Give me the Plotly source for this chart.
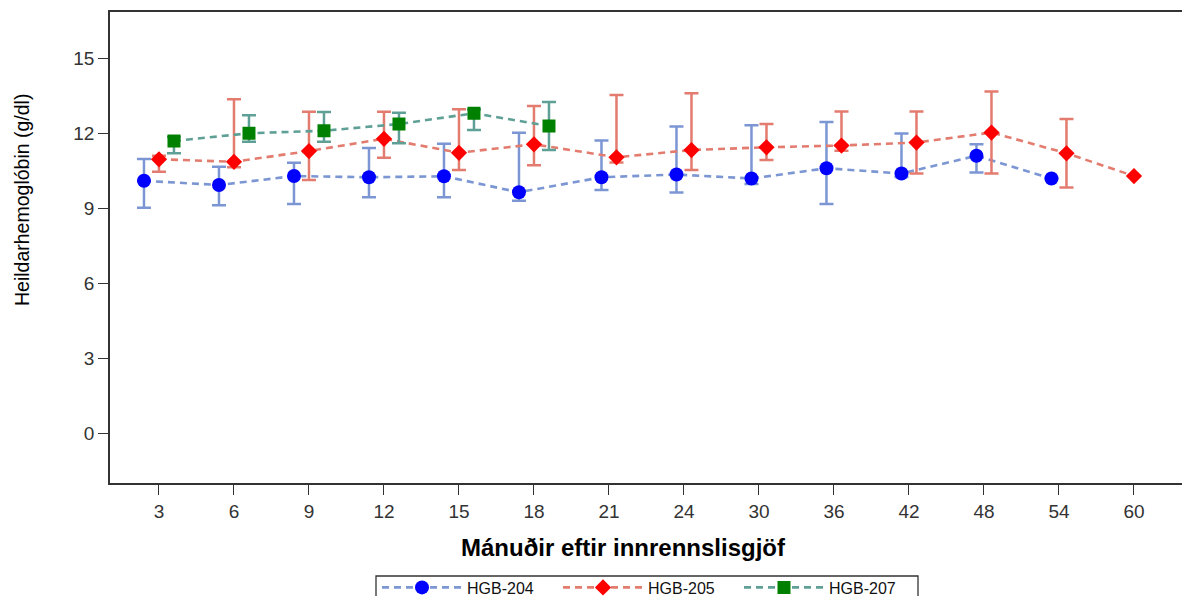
import plotly.graph_objects as go

categories = ["3", "6", "9", "12", "15", "18", "21", "24", "30", "36", "42", "48", "54", "60"]

series_names = ["HGB-204", "HGB-205", "HGB-207"]

hgb204_mean = [10.10, 9.93, 10.29, 10.24, 10.28, 9.64, 10.24, 10.35, 10.19, 10.60, 10.39, 11.10, 10.19, None]
hgb204_upper = [10.97, 10.66, 10.82, 11.41, 11.58, 12.02, 11.71, 12.27, 12.32, 12.45, 11.99, 11.56, None, None]
hgb204_lower = [9.02, 9.12, 9.17, 9.44, 9.44, 9.30, 9.73, 9.63, 9.97, 9.17, 10.25, 10.43, None, None]

hgb205_mean = [10.96, 10.86, 11.29, 11.78, 11.22, 11.56, 11.04, 11.33, 11.44, 11.51, 11.63, 12.03, 11.20, 10.29]
hgb205_upper = [11.10, 13.36, 12.86, 12.86, 12.96, 13.09, 13.53, 13.60, 12.37, 12.87, 12.87, 13.67, 12.57, None]
hgb205_lower = [10.46, 10.64, 10.13, 11.02, 10.53, 10.72, 10.83, 10.53, 10.93, 11.30, 10.39, 10.39, 9.83, None]

hgb207_mean = [11.69, 12.00, 12.10, 12.37, 12.80, 12.29, None, None, None, None, None, None, None, None]
hgb207_upper = [11.85, 12.72, 12.85, 12.82, 12.95, 13.25, None, None, None, None, None, None, None, None]
hgb207_lower = [11.20, 11.66, 11.66, 11.60, 12.13, 11.33, None, None, None, None, None, None, None, None]

y_ticks = [0, 3, 6, 9, 12, 15]

means = [hgb204_mean, hgb205_mean, hgb207_mean]
uppers = [hgb204_upper, hgb205_upper, hgb207_upper]
lowers = [hgb204_lower, hgb205_lower, hgb207_lower]

line_colors = ["#7B96D3", "#E37B6F", "#5FA096"]
marker_colors = ["#0000FF", "#FF0000", "#008000"]
symbols = ["circle", "diamond", "square"]
marker_sizes = [14, 12.5, 13]

# cluster offsets per category (depends on how many groups are present)
step = 0.2
positions = [[None] * len(categories) for _ in means]
for i in range(len(categories)):
    present = [k for k in range(len(means)) if means[k][i] is not None]
    n = len(present)
    for rank, k in enumerate(present):
        positions[k][i] = i + (rank - (n - 1) / 2) * step

fig = go.Figure()
for k, name in enumerate(series_names):
    xs, ys, ep, em = [], [], [], []
    for i in range(len(categories)):
        m = means[k][i]
        if m is None:
            continue
        xs.append(positions[k][i])
        ys.append(m)
        u = uppers[k][i]
        l = lowers[k][i]
        ep.append(0 if u is None else u - m)
        em.append(0 if l is None else m - l)
    fig.add_trace(go.Scatter(
        x=xs, y=ys, name=name, mode="lines+markers",
        line=dict(color=line_colors[k], width=2.6, dash="7px,5px"),
        marker=dict(color=marker_colors[k], symbol=symbols[k], size=marker_sizes[k],
                    line=dict(width=0)),
        error_y=dict(type="data", symmetric=False, array=ep, arrayminus=em,
                     color=line_colors[k], thickness=2.5, width=7),
    ))

W, H = 1182, 596
ml, mt = 110, 12
ph = 471
mb = H - mt - ph
mr = 0
pw = W - ml - mr
plot_bottom = mt + ph


def px_x(sx):
    return (sx - ml) / pw


def px_y(sy):
    return (plot_bottom - sy) / ph


fig.update_layout(
    width=W, height=H,
    margin=dict(l=ml, r=mr, t=mt, b=mb, autoexpand=False),
    paper_bgcolor="white", plot_bgcolor="white",
    font=dict(family="Liberation Sans, Arial, sans-serif", color="#333333"),
    showlegend=True,
    legend=dict(orientation="h", x=px_x(377), y=px_y(570.5),
                xanchor="left", yanchor="top",
                bgcolor="rgba(0,0,0,0)", borderwidth=0,
                font=dict(size=16, color="#111111"),
                entrywidth=86, itemwidth=80, traceorder="normal"),
)

# legend frame (extends below the visible page edge, as in the reference)
fig.add_shape(
    type="rect", xref="paper", yref="paper",
    x0=px_x(376), x1=px_x(918), y0=px_y(576), y1=px_y(620),
    line=dict(color="#333333", width=1.3), fillcolor="rgba(0,0,0,0)", layer="below",
)

fig.update_xaxes(
    range=[-0.653, -0.653 + pw / 75.0],
    tickmode="array", tickvals=list(range(len(categories))), ticktext=categories,
    showgrid=False, zeroline=False,
    showline=True, mirror=True, linecolor="#333333", linewidth=1.6,
    ticks="outside", ticklen=10, tickwidth=1.4, tickcolor="#333333",
    tickfont=dict(size=19, color="#333333"),
)
fig.update_yaxes(
    range=[-1.988, 16.85],
    tickmode="array", tickvals=y_ticks,
    showgrid=False, zeroline=False,
    showline=True, mirror=False, linecolor="#333333", linewidth=1.6,
    ticks="outside", ticklen=10, tickwidth=1.4, tickcolor="#333333",
    tickfont=dict(size=19, color="#333333"),
)

fig.add_annotation(
    text="Heildarhemoglóbin (g/dl)", textangle=-90,
    xref="paper", yref="paper", x=px_x(22), y=px_y(200),
    xanchor="center", yanchor="middle", showarrow=False,
    font=dict(size=19.5, color="#000000"),
)
fig.add_annotation(
    text="<b>Mánuðir eftir innrennslisgjöf</b>",
    xref="paper", yref="paper", x=px_x(623), y=px_y(547),
    xanchor="center", yanchor="middle", showarrow=False,
    font=dict(size=24, color="#000000"),
)

fig.write_html(
    "out.html",
    config={"displayModeBar": False},
    post_script="document.body.style.margin='0';document.body.style.overflow='hidden';",
)
